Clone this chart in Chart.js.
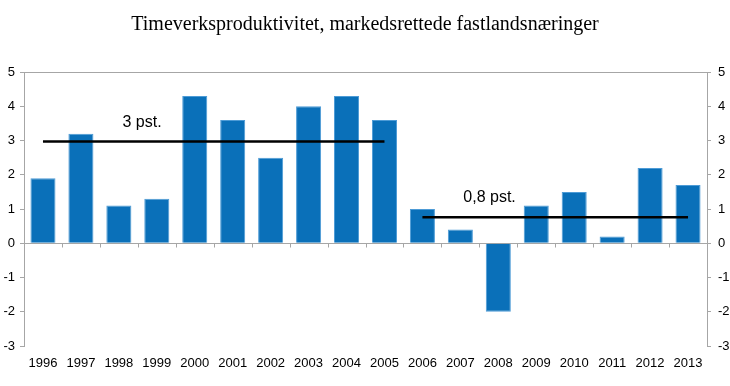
<!DOCTYPE html>
<html>
<head>
<meta charset="utf-8">
<script src="https://cdn.jsdelivr.net/npm/chart.js@4.4.3/dist/chart.umd.min.js"></script>
<style>
  html, body { margin: 0; padding: 0; background: #fff; }
  #wrap { width: 730px; height: 386px; }
</style>
</head>
<body>
<div id="wrap"><canvas id="chart"></canvas></div>
<script>
// Timeverksproduktivitet, markedsrettede fastlandsnæringer
const years = ['1996', '1997', '1998', '1999', '2000', '2001', '2002', '2003', '2004',
  '2005', '2006', '2007', '2008', '2009', '2010', '2011', '2012', '2013'];
const growth = [1.9, 3.2, 1.1, 1.3, 4.3, 3.6, 2.5, 4.0, 4.3, 3.6, 1.0, 0.4, -2.0, 1.1, 1.5, 0.2, 2.2, 1.7];
// period averages (1996-2005 and 2006-2013)
const avgEarly = [2.97, 2.97, 2.97, 2.97, 2.97, 2.97, 2.97, 2.97, 2.97, 2.97,
  null, null, null, null, null, null, null, null];
const avgLate = [null, null, null, null, null, null, null, null, null, null,
  0.76, 0.76, 0.76, 0.76, 0.76, 0.76, 0.76, 0.76];
const avgTexts = ['3 pst.', '0,8 pst.'];
const yTicks = [5, 4, 3, 2, 1, 0, -1, -2, -3];

const AXIS = '#a6a6a6';
const FONT = { family: 'Liberation Sans, Arial, sans-serif', size: 13 };

// labels over the average lines + small category ticks on the zero line
const extras = {
  id: 'extras',
  afterDatasetsDraw(chart) {
    const ctx = chart.ctx;
    const x = chart.scales.x, y = chart.scales.y;
    ctx.save();
    // category separator ticks below the zero line
    ctx.strokeStyle = AXIS;
    ctx.lineWidth = 1;
    const y0 = Math.round(y.getPixelForValue(0)) + 0.5;
    const step = x.getPixelForValue(1) - x.getPixelForValue(0);
    for (let i = 1; i < years.length; i++) {
      const px = Math.round(x.getPixelForValue(i) - step / 2) + 0.5;
      ctx.beginPath();
      ctx.moveTo(px, y0);
      ctx.lineTo(px, y0 + 4);
      ctx.stroke();
    }
    // average labels
    ctx.fillStyle = '#000';
    ctx.font = '16px "Liberation Sans", Arial, sans-serif';
    ctx.textAlign = 'center';
    ctx.textBaseline = 'middle';
    const p0 = x.getPixelForValue(0);
    ctx.fillText(avgTexts[0], p0 + step * 2.61, y.getPixelForValue(3.51));
    ctx.fillText(avgTexts[1], p0 + step * 11.77, y.getPixelForValue(1.34));
    ctx.restore();
  }
};

new Chart(document.getElementById('chart'), {
  type: 'bar',
  data: {
    labels: years,
    datasets: [
      {
        type: 'line',
        data: avgEarly,
        borderColor: '#000',
        borderWidth: 2.5,
        pointRadius: 0,
        spanGaps: false,
        order: 0
      },
      {
        type: 'line',
        data: avgLate,
        borderColor: '#000',
        borderWidth: 2.5,
        pointRadius: 0,
        spanGaps: false,
        order: 0
      },
      {
        data: growth,
        backgroundColor: '#0a70b9',
        borderColor: '#4d9bd6',
        borderWidth: 1,
        barPercentage: 0.66,
        categoryPercentage: 1,
        order: 1
      }
    ]
  },
  options: {
    responsive: true,
    maintainAspectRatio: false,
    animation: false,
    layout: { padding: { top: 0, bottom: 0, left: 0, right: 0 } },
    plugins: {
      legend: { display: false },
      tooltip: { enabled: false },
      title: {
        display: true,
        text: 'Timeverksproduktivitet, markedsrettede fastlandsnæringer',
        color: '#000',
        font: { family: 'Liberation Serif, Times New Roman, serif', size: 20, weight: 'normal' },
        padding: { top: 13, bottom: 35 }
      }
    },
    scales: {
      x: {
        grid: { display: false },
        border: { display: false },
        ticks: { color: '#000', font: FONT, padding: 2, maxRotation: 0, autoSkip: false },
        afterFit(s) { s.height = 40; }
      },
      y: {
        min: -3, max: 5,
        afterBuildTicks(s) { s.ticks = yTicks.map(v => ({ value: v })); },
        grid: {
          color: c => (c.tick && (c.tick.value === 5 || c.tick.value === 0)) ? AXIS : 'transparent',
          tickColor: AXIS,
          tickLength: 4
        },
        border: { color: AXIS },
        ticks: { color: '#000', font: FONT, padding: 5 },
        afterFit(s) { s.width = 24; }
      },
      y2: {
        position: 'right',
        min: -3, max: 5,
        afterBuildTicks(s) { s.ticks = yTicks.map(v => ({ value: v })); },
        grid: { drawOnChartArea: false, tickColor: AXIS, tickLength: 4 },
        border: { color: AXIS },
        ticks: { color: '#000', font: FONT, padding: 7 },
        afterFit(s) { s.width = 23; }
      }
    }
  },
  plugins: [extras]
});
</script>
</body>
</html>
